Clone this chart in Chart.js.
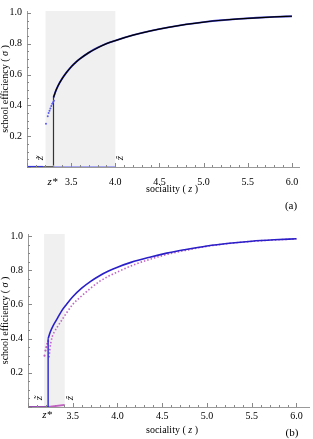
<!DOCTYPE html>
<html><head><meta charset="utf-8">
<script src="https://cdn.jsdelivr.net/npm/chart.js@4"></script>
<style>
html,body{margin:0;padding:0;background:#fff;}
#wrap{position:relative;width:313px;height:439px;}
canvas{position:absolute;left:0;}
</style></head><body>
<div id="wrap">
<canvas id="ca" width="313" height="220" style="top:0"></canvas>
<canvas id="cb" width="313" height="219" style="top:220px"></canvas>
</div>
<script>
// ---------- shared tick labels ----------
const xTickLabels = ['3.5','4.0','4.5','5.0','5.5','6.0'];
const yTickLabels = ['0.2','0.4','0.6','0.8','1.0'];

// ---------- panel (a) ----------
const zA     = [3.30,3.32,3.35,3.40,3.45,3.50,3.55,3.60,3.70,3.80,3.90,4.00,4.20,4.40,4.60,4.80,5.00,5.20,5.40,5.60,5.80,6.00];
const sigmaA = [0.45,0.485,0.525,0.575,0.615,0.65,0.678,0.702,0.742,0.774,0.80,0.82,0.855,0.883,0.906,0.925,0.94,0.952,0.961,0.968,0.974,0.978];
const zDotsA     = [3.215,3.235,3.245,3.255,3.265,3.275,3.285,3.295,3.305];
const sigmaDotsA = [0.28,0.33,0.35,0.365,0.38,0.395,0.41,0.42,0.43];
const zLowBlueA  = [3.00,3.18];
const zLowBlackA = [3.00,3.30];
const zLowDotsA  = [3.30,4.00];
const zTildeA = 3.21, zStarA = 3.30, zHatA = 4.00;

// ---------- panel (b) ----------
const zB     = [3.225,3.25,3.28,3.33,3.38,3.43,3.50,3.60,3.70,3.80,3.90,4.00,4.15,4.35,4.55,4.75,5.00,5.25,5.50,5.75,6.00];
const sigmaB = [0.40,0.44,0.475,0.52,0.565,0.60,0.645,0.695,0.735,0.768,0.795,0.818,0.846,0.875,0.90,0.92,0.942,0.958,0.97,0.978,0.984];
const zPinkR     = [3.235,3.245,3.255,3.27,3.29,3.33,3.38,3.43,3.50,3.60,3.70,3.80,3.90,4.00,4.15,4.35,4.55,4.75,5.00,5.25,5.50,5.75,6.00];
const sigmaPinkR = [0.29,0.34,0.375,0.41,0.435,0.47,0.51,0.55,0.60,0.65,0.695,0.735,0.765,0.79,0.825,0.862,0.892,0.915,0.94,0.957,0.969,0.977,0.983];
const zPinkL     = [3.185,3.195,3.205,3.215,3.225];
const sigmaPinkL = [0.30,0.33,0.35,0.37,0.385];
const zLowPurpleB = [3.00,3.225];
const zLowPinkB   = [3.225,3.41];
const sigmaLowPinkB = [0.0,0.012];
const zTildeB = 3.18, zStarB = 3.225, zHatB = 3.41;

const pts = (xs, ys) => xs.map((x,i)=>({x:x, y:ys[i]}));
const zeros = xs => xs.map(x=>({x:x,y:0}));

const SERIF = '"Liberation Serif","Times New Roman",serif';

function decorPlugin(o){
  return {
    id:'decor'+o.name,
    beforeDatasetsDraw(chart){
      const {ctx, chartArea:ca, scales:{x,y}} = chart;
      ctx.save();
      ctx.fillStyle = '#f0f0f0';
      const x0 = x.getPixelForValue(o.zTilde), x1 = x.getPixelForValue(o.zHat);
      ctx.fillRect(x0, ca.top, x1-x0, y.getPixelForValue(0)-ca.top);
      ctx.restore();
    },
    afterDraw(chart){
      const {ctx, chartArea:ca, scales:{x,y}} = chart;
      ctx.save();
      // inward ticks
      ctx.strokeStyle = '#888'; ctx.lineWidth = 1;
      const yb = y.getPixelForValue(0);
      for(let i=30;i<=60;i++){
        const px = Math.round(x.getPixelForValue(i/10))+0.5;
        const len = (i%5===0)?4:2;
        ctx.beginPath(); ctx.moveTo(px, yb); ctx.lineTo(px, yb-len); ctx.stroke();
      }
      for(let i=0;i<=20;i++){
        const py = Math.round(y.getPixelForValue(i/20))+0.5;
        const len = (i%4===0)?4:2;
        ctx.beginPath(); ctx.moveTo(ca.left, py); ctx.lineTo(ca.left+len, py); ctx.stroke();
      }
      ctx.fillStyle = '#000';
      // rotated z-tilde / z-hat
      const ly = yb - 9;
      [[o.zTilde,'z\u0303',-5],[o.zHat,'\u1E91',5]].forEach(([v,t,dx])=>{
        ctx.save();
        ctx.translate(x.getPixelForValue(v)+dx, ly);
        ctx.rotate(-Math.PI/2);
        ctx.font = 'italic 11px '+SERIF;
        ctx.textAlign='center'; ctx.textBaseline='middle';
        ctx.fillText(t,0,0);
        ctx.restore();
      });
      // z*
      ctx.font = 'italic 11px '+SERIF;
      ctx.textAlign='center'; ctx.textBaseline='middle';
      ctx.fillText('z*', x.getPixelForValue(o.zStar)-1, o.zStarY);
      // x title
      const a='sociality ( ', b='z', c=' )';
      ctx.font = '10px '+SERIF; const wa=ctx.measureText(a).width, wc=ctx.measureText(c).width;
      ctx.font = 'italic 10px '+SERIF; const wb=ctx.measureText(b).width;
      let sx = o.xTitleX - (wa+wb+wc)/2;
      ctx.textAlign='left';
      ctx.font = '10px '+SERIF; ctx.fillText(a, sx, o.xTitleY);
      ctx.font = 'italic 10px '+SERIF; ctx.fillText(b, sx+wa, o.xTitleY);
      ctx.font = '10px '+SERIF; ctx.fillText(c, sx+wa+wb, o.xTitleY);
      // y title
      ctx.save();
      ctx.translate(5, (ca.top+yb)/2);
      ctx.rotate(-Math.PI/2);
      const p='school efficiency ( ', q='\u03C3', r=' )';
      ctx.font = '10px '+SERIF; const wp=ctx.measureText(p).width, wr=ctx.measureText(r).width;
      ctx.font = 'italic 10px '+SERIF; const wq=ctx.measureText(q).width;
      let s0 = -(wp+wq+wr)/2;
      ctx.font = '10px '+SERIF; ctx.fillText(p, s0, 0);
      ctx.font = 'italic 10px '+SERIF; ctx.fillText(q, s0+wp, 0);
      ctx.font = '10px '+SERIF; ctx.fillText(r, s0+wp+wq, 0);
      ctx.restore();
      // panel tag
      ctx.font = '11px '+SERIF; ctx.textAlign='center';
      ctx.fillText(o.tag, o.tagX, o.tagY);
      ctx.restore();
    }
  };
}

function scalesCfg(o){
  return {
    x:{type:'linear', min:3.0, max:o.xmax,
       border:{display:true,color:'#999',width:1},
       grid:{display:false, drawTicks:false},
       ticks:{stepSize:0.5, includeBounds:false, autoSkip:false, maxRotation:0, padding:o.xPad,
              color:'#000', font:{family:SERIF,size:10},
              callback:v=>{const s=Number(v).toFixed(1); return xTickLabels.includes(s)?s:'';}},
       afterFit:s=>{s.height=o.xH;}},
    y:{type:'linear', min:0, max:1.012,
       border:{display:true,color:'#999',width:1},
       grid:{display:false, drawTicks:false},
       ticks:{stepSize:0.2, includeBounds:false, padding:5, color:'#000', font:{family:SERIF,size:10},
              callback:v=>{const s=Number(v).toFixed(1); return yTickLabels.includes(s)?s:'';}},
       afterFit:s=>{s.width=o.yW;}}
  };
}

const common = {
  responsive:false, animation:false, devicePixelRatio:1,
  plugins:{legend:{display:false}, tooltip:{enabled:false}},
  elements:{point:{radius:0}, line:{cubicInterpolationMode:'monotone'}}
};

// ---------- chart (a) ---------- (first dataset is drawn on top)
const optA = {name:'A', zTilde:zTildeA, zStar:zStarA, zHat:zHatA, zStarY:182,
  xTitleX:172, xTitleY:189, tag:'(a)', tagX:291, tagY:206,
  xmax:6.08, xPad:9, xH:53, yW:27};
new Chart(document.getElementById('ca'), {
  type:'scatter',
  data:{datasets:[
    {data:pts(zA,sigmaA), showLine:true, borderColor:'#000', borderWidth:1.2, pointRadius:0},
    {data:pts(zA,sigmaA), showLine:true, borderColor:'#4040d0', borderWidth:1.9, pointRadius:0},
    {data:pts(zDotsA,sigmaDotsA), showLine:false, pointRadius:1, pointBackgroundColor:'#5a5af5', pointBorderWidth:0},
    {data:[{x:zStarA,y:0},{x:zStarA,y:sigmaA[0]}], showLine:true, borderColor:'#333', borderWidth:1.2, pointRadius:0},
    {data:zeros(zLowDotsA), showLine:true, borderColor:'#5a5af0', borderWidth:2, borderDash:[1,1], pointRadius:0},
    {data:zeros(zLowBlueA), showLine:true, borderColor:'#3434d8', borderWidth:2.2, pointRadius:0},
    {data:zeros(zLowBlackA), showLine:true, borderColor:'#000', borderWidth:1.2, pointRadius:0}
  ]},
  options:Object.assign({}, common, {
    layout:{padding:{top:2,right:14,left:0,bottom:0}},
    scales:scalesCfg(optA)
  }),
  plugins:[decorPlugin(optA)]
});

// ---------- chart (b) ----------
const optB = {name:'B', zTilde:zTildeB, zStar:zStarB, zHat:zHatB, zStarY:195,
  xTitleX:172, xTitleY:210, tag:'(b)', tagX:292, tagY:213,
  xmax:6.14, xPad:3, xH:32, yW:28};
new Chart(document.getElementById('cb'), {
  type:'scatter',
  data:{datasets:[
    {data:pts(zB,sigmaB), showLine:true, borderColor:'#2a1fc8', borderWidth:1.6, pointRadius:0},
    {data:[{x:zStarB,y:0},{x:zStarB,y:sigmaB[0]}], showLine:true, borderColor:'#2a22d0', borderWidth:1.4, pointRadius:0},
    {data:pts(zPinkR,sigmaPinkR), showLine:true, borderColor:'#c262c8', borderWidth:1.6, borderDash:[1.5,2], pointRadius:0},
    {data:pts(zPinkL,sigmaPinkL), showLine:false, pointRadius:1.1, pointBackgroundColor:'#c060c0', pointBorderWidth:0},
    {data:pts(zLowPinkB,sigmaLowPinkB), showLine:true, borderColor:'#c060c0', borderWidth:1.8, pointRadius:0},
    {data:zeros(zLowPurpleB), showLine:true, borderColor:'#8a3aa8', borderWidth:1.8, pointRadius:0}
  ]},
  options:Object.assign({}, common, {
    layout:{padding:{top:14,right:2,left:0,bottom:0}},
    scales:scalesCfg(optB)
  }),
  plugins:[decorPlugin(optB)]
});
</script>
</body></html>
